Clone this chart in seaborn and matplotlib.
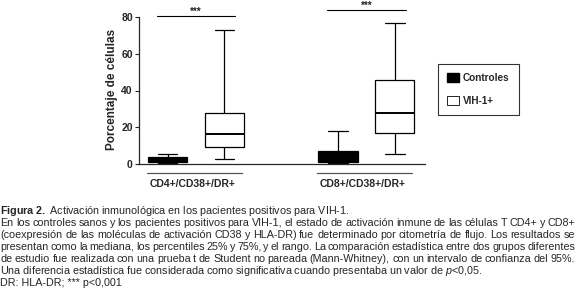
import numpy as np
import pandas as pd
import seaborn as sns
import matplotlib
matplotlib.use("Agg")
import matplotlib.pyplot as plt
from matplotlib.patches import Patch

# ---------------- data ----------------
groups = ["CD4+/CD38+/DR+", "CD8+/CD38+/DR+"]
hues = ["Controles", "VIH-1+"]
# each list: min, 25th pct, median, 75th pct, max  (% of cells)
cd4_controles = [0.5, 1.0, 2.5, 3.8, 5.3]
cd4_vih = [2.5, 9.4, 16.3, 27.7, 73.0]
cd8_controles = [0.3, 1.0, 3.5, 7.0, 17.8]
cd8_vih = [5.4, 16.7, 27.5, 45.6, 76.5]
yticks = [0, 20, 40, 60, 80]
sig_label = "***"
sig_heights = [80.5, 83.8]
ylabel = "Porcentaje de células"

caption_lines = [
    r"$\bf{Figura\ 2.}$ Activación inmunológica en los pacientes positivos para VIH-1.",
    "En los controles sanos y los pacientes positivos para VIH-1, el estado de activación inmune de las células T CD4+ y CD8+",
    "(coexpresión de las moléculas de activación CD38 y HLA-DR) fue determinado por citometría de flujo. Los resultados se",
    "presentan como la mediana, los percentiles 25% y 75%, y el rango. La comparación estadística entre dos grupos diferentes",
    "de estudio fue realizada con una prueba t de Student no pareada (Mann-Whitney), con un intervalo de confianza del 95%.",
    r"Una diferencia estadística fue considerada como significativa cuando presentaba un valor de $\it{p}$<0,05.",
    "DR: HLA-DR; *** p<0,001",
]
justified = [False, True, True, True, True, False, False]

rows = []
for g, (c, v) in zip(groups, [(cd4_controles, cd4_vih), (cd8_controles, cd8_vih)]):
    rows += [(g, hues[0], x) for x in c]
    rows += [(g, hues[1], x) for x in v]
df = pd.DataFrame(rows, columns=["grupo", "estado", "pct"])

# ---------------- figure ----------------
sns.set_style("ticks")
plt.rcParams["font.family"] = ["Liberation Sans", "DejaVu Sans"]
plt.rcParams["mathtext.fontset"] = "custom"
plt.rcParams["mathtext.rm"] = "Liberation Sans"
plt.rcParams["mathtext.bf"] = "Liberation Sans:bold"
plt.rcParams["mathtext.it"] = "Liberation Sans:italic"
W, H = 576, 297
fig = plt.figure(figsize=(W / 100, H / 100), dpi=100)
ax = fig.add_axes([139 / W, 1 - 164 / H, (425 - 139) / W, (164 - 17) / H])

sns.boxplot(data=df, x="grupo", y="pct", hue="estado", order=groups, hue_order=hues,
            palette={hues[0]: "black", hues[1]: "white"}, linecolor="black",
            whis=(0, 100), width=0.667, gap=0.31, linewidth=0.9,
            medianprops={"linewidth": 1.4}, legend=False, ax=ax)

ax.set_xlim(-0.335, 1.344)
ax.set_ylim(0, 80)
ax.set_yticks(yticks)
ax.set_yticklabels([str(t) for t in yticks], fontsize=7.5, fontweight="bold")
ax.tick_params(axis="y", length=3, width=0.8, pad=1.5)
ax.set_xticks([])
ax.set_xlabel("")
ax.set_ylabel(ylabel, fontsize=8.5, fontweight="bold")
ax.yaxis.set_label_coords(-0.072, 0.51)
for s in ["top", "right"]:
    ax.spines[s].set_visible(False)
for s in ["left", "bottom"]:
    ax.spines[s].set_linewidth(0.9)
ax.patch.set_alpha(0)

# group labels with underline
for i, g in enumerate(groups):
    ax.plot([i - 0.29, i + 0.27], [-4.9, -4.9], color="#555555", lw=0.9, clip_on=False)
    ax.text(i - 0.02, -11.0, g, ha="center", va="center", fontsize=7.5, fontweight="bold")

# significance bars
for i, h in enumerate(sig_heights):
    ax.plot([i - 0.23, i + 0.23], [h, h], color="black", lw=0.8, clip_on=False)
    ax.text(i, h - 0.6, sig_label, ha="center", va="bottom", fontsize=7, fontweight="bold",
            clip_on=False)

# legend
handles = [Patch(facecolor="black", edgecolor="black", label=hues[0]),
           Patch(facecolor="white", edgecolor="black", linewidth=0.6, label=hues[1])]
leg = fig.legend(handles=handles, loc="upper left", bbox_to_anchor=(437.5 / W, 1 - 64 / H),
                 borderaxespad=0, fancybox=False, frameon=True, edgecolor="black",
                 handlelength=1.2, handleheight=1.05, handletextpad=0.45, borderpad=0.9,
                 labelspacing=1.25, prop={"size": 7.2, "weight": "bold"})
leg.get_frame().set_linewidth(0.8)

# ---------------- caption ----------------
renderer = fig.canvas.get_renderer()
cap_fs = 7.75
x0, x1 = 0.5, 575.0
base0 = 213.5
step = 12.1


def ink(s):
    t = fig.text(0, 0, s, fontsize=cap_fs)
    w = t.get_window_extent(renderer).width
    t.remove()
    return w


for li, line in enumerate(caption_lines):
    y = 1 - (base0 + li * step) / H
    if not justified[li]:
        fig.text(x0 / W, y, line, ha="left", va="baseline", fontsize=cap_fs)
        continue
    words = line.split(" ")
    widths = [ink(w) for w in words]
    gap = (x1 - x0 - sum(widths)) / (len(words) - 1)
    x = x0
    for w, wd in zip(words, widths):
        fig.text(x / W, y, w, ha="left", va="baseline", fontsize=cap_fs)
        x += wd + gap

fig.savefig("out.png", dpi=100)
